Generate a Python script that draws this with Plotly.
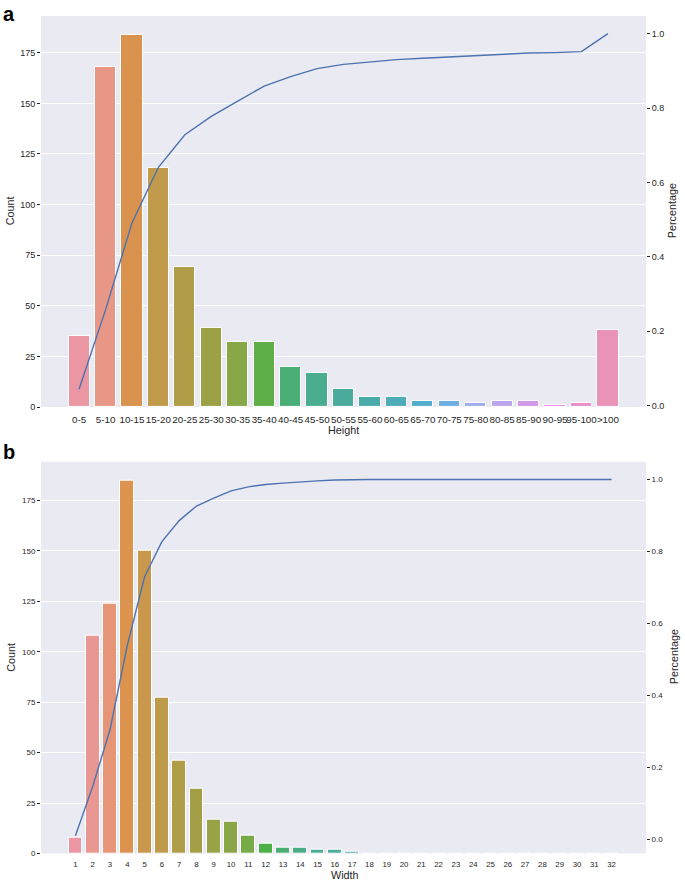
import math
import colorsys
import plotly.graph_objects as go

# ---------------- data ----------------
height_bins = ["0-5", "5-10", "10-15", "15-20", "20-25", "25-30", "30-35", "35-40",
               "40-45", "45-50", "50-55", "55-60", "60-65", "65-70", "70-75", "75-80",
               "80-85", "85-90", "90-95", "95-100", ">100"]
height_counts = [35, 168, 184, 118, 69, 39, 32, 32, 20, 17, 9, 5, 5, 3, 3, 2, 3, 3, 1, 2, 38]
height_cum = [0.0444, 0.2576, 0.4911, 0.6409, 0.7284, 0.7779, 0.8185, 0.8591, 0.8845,
              0.9061, 0.9175, 0.9239, 0.9302, 0.9340, 0.9378, 0.9404, 0.9442, 0.9480,
              0.9492, 0.9518, 1.0]

width_bins = [str(i) for i in range(1, 33)]
width_counts = [8, 108, 124, 185, 150, 77, 46, 32, 17, 16, 9, 5, 3, 3, 2, 2, 1,
                0, 0, 0, 0, 0, 0, 0, 0, 0, 0, 0, 0, 0, 0, 0]
width_cum = [0.0102, 0.1472, 0.3046, 0.5393, 0.7297, 0.8274, 0.8858, 0.9264, 0.9480,
             0.9683, 0.9797, 0.9860, 0.9898, 0.9937, 0.9962, 0.9987, 1.0,
             1.0, 1.0, 1.0, 1.0, 1.0, 1.0, 1.0, 1.0, 1.0, 1.0, 1.0, 1.0, 1.0, 1.0, 1.0]

# ---------------- husl palette (seaborn style) ----------------
_M = [[3.2406, -1.5372, -0.4986], [-0.9689, 1.8758, 0.0415], [0.0557, -0.2040, 1.0570]]
_refU, _refV = 0.19784, 0.46834


def _max_chroma(L, H):
    hrad = math.radians(H)
    sinH, cosH = math.sin(hrad), math.cos(hrad)
    sub1 = ((L + 16) ** 3) / 1560896.0
    sub2 = sub1 if sub1 > 0.008856 else L / 903.3
    result = float("inf")
    for m1, m2, m3 in _M:
        top = (0.99915 * m1 + 1.05122 * m2 + 1.14460 * m3) * sub2
        rbottom = 0.86330 * m3 - 0.17266 * m2
        lbottom = 0.12949 * m3 - 0.38848 * m1
        bottom = (rbottom * sinH + lbottom * cosH) * sub2
        for t in (0.0, 1.0):
            C = L * (top - 1.05122 * t) / (bottom + 0.17266 * sinH * t)
            if 0.0 < C < result:
                result = C
    return result


def _husl_to_rgb(H, S, L):
    C = _max_chroma(L, H) / 100.0 * S
    U = math.cos(math.radians(H)) * C
    V = math.sin(math.radians(H)) * C
    t = (L + 16.0) / 116.0
    Y = t ** 3 if t ** 3 > 0.008856 else (116.0 * t - 16.0) / 903.3
    varU = U / (13.0 * L) + _refU
    varV = V / (13.0 * L) + _refV
    X = 0.0 - (9.0 * Y * varU) / ((varU - 4.0) * varV - varU * varV)
    Z = (9.0 * Y - (15.0 * varV * Y) - (varV * X)) / (3.0 * varV)
    out = []
    for row in _M:
        c = row[0] * X + row[1] * Y + row[2] * Z
        c = 12.92 * c if c <= 0.0031308 else 1.055 * (c ** (1 / 2.4)) - 0.055
        out.append(min(max(c, 0.0), 1.0))
    return out


def husl_palette(n, h=0.01, s=0.9, l=0.7, desat=0.75):
    cols = []
    for i in range(n):
        hue = ((i / n) + h) % 1 * 359
        r, g, b = _husl_to_rgb(hue, s * 99, l * 99)
        hh, ll, ss = colorsys.rgb_to_hls(r, g, b)
        r, g, b = colorsys.hls_to_rgb(hh, ll, ss * desat)
        cols.append("rgb(%d,%d,%d)" % (round(r * 255), round(g * 255), round(b * 255)))
    return cols


# ---------------- figure ----------------
W, H = 685, 891
FONT = "Liberation Sans, Arial, Helvetica, sans-serif"
TXT = "#262626"
LINE = "#4C72B0"
BG = "#EAEAF2"


def px_x(x):
    return x / W


def px_y(y):
    return 1 - y / H


fig = go.Figure()

fig.add_trace(go.Bar(x=height_bins, y=height_counts, width=0.8,
                     marker=dict(color=husl_palette(len(height_bins)),
                                 line=dict(color="white", width=1)),
                     xaxis="x", yaxis="y", showlegend=False))
fig.add_trace(go.Scatter(x=height_bins, y=height_cum, mode="lines",
                         line=dict(color=LINE, width=1.4),
                         xaxis="x", yaxis="y2", showlegend=False))

fig.add_trace(go.Bar(x=width_bins, y=width_counts, width=0.8,
                     marker=dict(color=husl_palette(len(width_bins)),
                                 line=dict(color="white", width=1)),
                     xaxis="x2", yaxis="y3", showlegend=False))
fig.add_trace(go.Scatter(x=width_bins, y=width_cum, mode="lines",
                         line=dict(color=LINE, width=1.4),
                         xaxis="x2", yaxis="y4", showlegend=False))

xdom = [px_x(41), px_x(646)]
top_dom = [px_y(409.3), px_y(16)]
bot_dom = [px_y(858.3), px_y(464.3)]

common_x = dict(type="category", showgrid=False, zeroline=False, showline=False,
                ticks="outside", ticklen=3, tickcolor="rgba(0,0,0,0)",
                tickangle=0, color=TXT)
left_y = dict(showgrid=True, gridcolor="white", gridwidth=1, zeroline=False,
              showline=False, ticks="outside", ticklen=3, tickwidth=1,
              tickcolor=TXT, color=TXT)
right_y = dict(showgrid=False, zeroline=False, showline=False, side="right",
               ticks="outside", ticklen=3, tickwidth=1, tickcolor=TXT, color=TXT,
               tickvals=[0.0, 0.2, 0.4, 0.6, 0.8, 1.0],
               ticktext=["0.0", "0.2", "0.4", "0.6", "0.8", "1.0"])

fig.update_layout(
    width=W, height=H,
    margin=dict(l=0, r=0, t=0, b=0),
    paper_bgcolor="white", plot_bgcolor=BG,
    font=dict(family=FONT, color=TXT),
    bargap=0,
    xaxis=dict(common_x, domain=xdom, anchor="y", range=[-1.44, 21.44],
               tickfont=dict(size=9.8)),
    yaxis=dict(left_y, domain=top_dom, anchor="x", range=[0, 193.2],
               tickvals=[0, 25, 50, 75, 100, 125, 150, 175], tickfont=dict(size=9)),
    yaxis2=dict(right_y, overlaying="y", anchor="x", range=[-0.0034, 1.0478],
                tickfont=dict(size=9)),
    xaxis2=dict(common_x, domain=xdom, anchor="y3", range=[-1.99, 32.99],
                tickfont=dict(size=7.8)),
    yaxis3=dict(left_y, domain=bot_dom, anchor="x2", range=[0, 194.25],
                tickvals=[0, 25, 50, 75, 100, 125, 150, 175], tickfont=dict(size=8)),
    yaxis4=dict(right_y, overlaying="y3", anchor="x2", range=[-0.0393, 1.0495],
                tickfont=dict(size=8)),
)

annots = [
    dict(text="<b>a</b>", x=px_x(1), y=px_y(14), xanchor="left", yanchor="middle",
         font=dict(size=20, color="black")),
    dict(text="<b>b</b>", x=px_x(1), y=px_y(455), xanchor="left", yanchor="middle",
         font=dict(size=20, color="black")),
    dict(text="Count", x=px_x(10), y=px_y(212.5), textangle=-90,
         xanchor="center", yanchor="middle", font=dict(size=10.8)),
    dict(text="Percentage", x=px_x(672), y=px_y(212.5), textangle=-90,
         xanchor="center", yanchor="middle", font=dict(size=10.8)),
    dict(text="Height", x=px_x(343.5), y=px_y(432), xanchor="center",
         yanchor="middle", font=dict(size=10.8)),
    dict(text="Count", x=px_x(11.5), y=px_y(661), textangle=-90,
         xanchor="center", yanchor="middle", font=dict(size=10.8)),
    dict(text="Percentage", x=px_x(674), y=px_y(661), textangle=-90,
         xanchor="center", yanchor="middle", font=dict(size=10.8)),
    dict(text="Width", x=px_x(344.5), y=px_y(880), xanchor="center",
         yanchor="middle", font=dict(size=10.8)),
]
for a in annots:
    a.update(xref="paper", yref="paper", showarrow=False)
fig.update_layout(annotations=annots)

fig.write_html("out.html",
               config={"displayModeBar": False},
               post_script="document.body.style.margin='0';document.body.style.overflow='hidden';")
